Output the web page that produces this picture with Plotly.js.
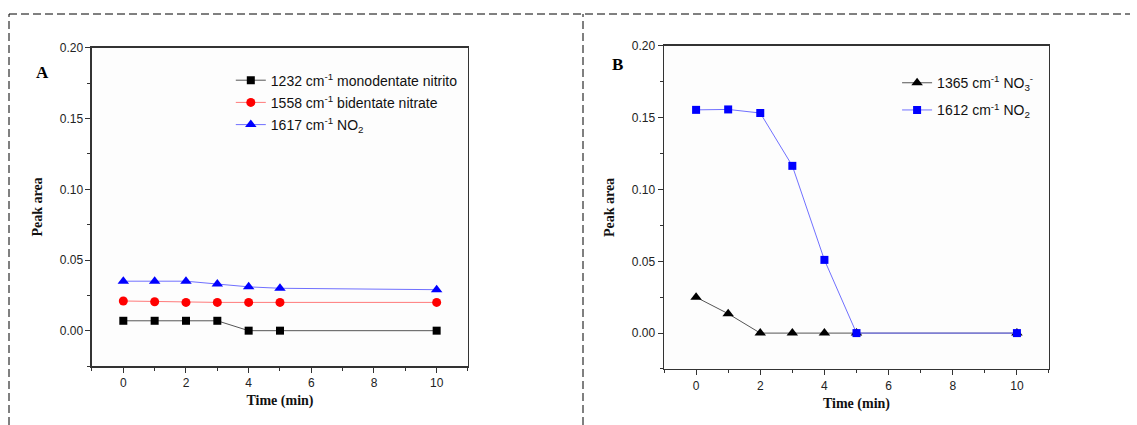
<!DOCTYPE html>
<html>
<head>
<meta charset="utf-8">
<script src="https://cdn.plot.ly/plotly-3.0.1.min.js"></script>
<style>html,body{margin:0;padding:0;background:#fff;}#chart{width:1137px;height:425px;}</style>
</head>
<body>
<div id="chart"></div>
<script>
// ---- Data ----
const timeA = [0, 1, 2, 3, 4, 5, 10];
const mono1232 = [0.007, 0.007, 0.007, 0.007, 0.000, 0.000, 0.000];
const bid1558 = [0.021, 0.0205, 0.020, 0.020, 0.020, 0.020, 0.020];
const no2_1617 = [0.035, 0.035, 0.035, 0.033, 0.031, 0.030, 0.029];

const timeB = [0, 1, 2, 3, 4, 5, 10];
const no3_1365 = [0.025, 0.0135, 0.000, 0.000, 0.000, 0.000, 0.000];
const no2_1612 = [0.1555, 0.1558, 0.1533, 0.1165, 0.051, 0.000, 0.000];

const namesA = ["1232 cm<sup>-1</sup> monodentate nitrito", "1558 cm<sup>-1</sup> bidentate nitrate", "1617 cm<sup>-1</sup> NO<sub>2</sub>"];
const namesB = ["1365 cm<sup>-1</sup> NO<sub>3</sub><sup>-</sup>", "1612 cm<sup>-1</sup> NO<sub>2</sub>"];

const xTickVals = [0, 2, 4, 6, 8, 10];
const yTickVals = [0, 0.05, 0.10, 0.15, 0.20];

const traces = [
  {x: timeA, y: mono1232, name: namesA[0], type: 'scatter', mode: 'lines+markers', xaxis: 'x', yaxis: 'y', legend: 'legend', legendgroup: 'a1',
   line: {color: '#555555', width: 1}, marker: {symbol: 'square', size: 8, color: '#000000'}},
  {x: timeA, y: bid1558, name: namesA[1], type: 'scatter', mode: 'lines+markers', xaxis: 'x', yaxis: 'y', legend: 'legend', legendgroup: 'a2',
   line: {color: '#ff7a7a', width: 1}, marker: {symbol: 'circle', size: 9, color: '#ff0000'}},
  {x: timeA, y: no2_1617, name: namesA[2], type: 'scatter', mode: 'lines+markers', xaxis: 'x', yaxis: 'y', legend: 'legend', legendgroup: 'a3',
   line: {color: '#7070ff', width: 1}, marker: {symbol: 'triangle-up', size: 10, color: '#0000ff'}},
  {x: timeB, y: no3_1365, name: namesB[0], type: 'scatter', mode: 'lines+markers', xaxis: 'x2', yaxis: 'y2', legend: 'legend2', legendgroup: 'b1',
   line: {color: '#555555', width: 1}, marker: {symbol: 'triangle-up', size: 10, color: '#000000'}},
  {x: timeB, y: no2_1612, name: namesB[1], type: 'scatter', mode: 'lines+markers', xaxis: 'x2', yaxis: 'y2', legend: 'legend2', legendgroup: 'b2',
   line: {color: '#7070ff', width: 1}, marker: {symbol: 'square', size: 8, color: '#0000ff'}}
];

const tickFont = {family: 'Liberation Sans, Arial, sans-serif', size: 12, color: '#222'};
const titleFont = {family: 'Liberation Serif, Times New Roman, serif', size: 14, color: '#111', weight: 'bold'};

function xAxis(domain, anchor) {
  return {domain: domain, anchor: anchor, range: [-1, 11], tickvals: xTickVals, ticks: 'outside', ticklen: 5, tickcolor: '#333',
    minor: {dtick: 1, tick0: 0, ticks: 'outside', ticklen: 3, tickcolor: '#333'},
    showline: true, mirror: true, linecolor: '#333', linewidth: 1.5, showgrid: false, zeroline: false,
    tickfont: tickFont, title: {text: '<b>Time (min)</b>', font: titleFont, standoff: 6}};
}
function yAxis(domain, anchor) {
  return {domain: domain, anchor: anchor, range: [-0.025, 0.20], tickvals: yTickVals, tickformat: '.2f', ticks: 'outside', ticklen: 5, tickcolor: '#333',
    minor: {dtick: 0.025, tick0: 0, ticks: 'outside', ticklen: 3, tickcolor: '#333'},
    showline: true, mirror: true, linecolor: '#333', linewidth: 1.5, showgrid: false, zeroline: false,
    tickfont: tickFont, title: {text: '<b>Peak area</b>', font: titleFont, standoff: 14}};
}

const legFont = {family: 'Liberation Sans, Arial, sans-serif', size: 14, color: '#111'};

const layout = {
  width: 1137, height: 425,
  margin: {l: 0, r: 0, t: 0, b: 0},
  paper_bgcolor: '#ffffff', plot_bgcolor: '#fdfdfd',
  showlegend: true,
  xaxis: xAxis([0.0809, 0.4116], 'y'),
  yaxis: yAxis([0.1388, 0.8871], 'x'),
  xaxis2: xAxis([0.584, 0.9226], 'y2'),
  yaxis2: yAxis([0.1318, 0.8918], 'x2'),
  legend: {x: 0.203, y: 0.848, xanchor: 'left', yanchor: 'top', bgcolor: 'rgba(0,0,0,0)', font: legFont, tracegroupgap: 1, itemwidth: 30},
  legend2: {x: 0.789, y: 0.842, xanchor: 'left', yanchor: 'top', bgcolor: 'rgba(0,0,0,0)', font: legFont, tracegroupgap: 6, itemwidth: 30},
  annotations: [
    {text: '<b>A</b>', xref: 'paper', yref: 'paper', x: 42/1137, y: 1 - 72/425, xanchor: 'center', yanchor: 'middle', showarrow: false,
     font: {family: 'Liberation Serif, Times New Roman, serif', size: 17, color: '#000'}},
    {text: '<b>B</b>', xref: 'paper', yref: 'paper', x: 617/1137, y: 1 - 64/425, xanchor: 'center', yanchor: 'middle', showarrow: false,
     font: {family: 'Liberation Serif, Times New Roman, serif', size: 17, color: '#000'}}
  ],
  shapes: [
    {type: 'line', xref: 'paper', yref: 'paper', x0: 9/1137, x1: 1130/1137, y0: 1 - 14/425, y1: 1 - 14/425, line: {color: '#000', width: 1, dash: '8px,4px'}},
    {type: 'line', xref: 'paper', yref: 'paper', x0: 9/1137, x1: 9/1137, y0: 0, y1: 1 - 14/425, line: {color: '#000', width: 1, dash: '8px,4px'}},
    {type: 'line', xref: 'paper', yref: 'paper', x0: 583/1137, x1: 583/1137, y0: 0, y1: 1 - 14/425, line: {color: '#000', width: 1, dash: '8px,4px'}}
  ]
};

Plotly.newPlot('chart', traces, layout, {displayModeBar: false, staticPlot: true});
</script>
</body>
</html>
